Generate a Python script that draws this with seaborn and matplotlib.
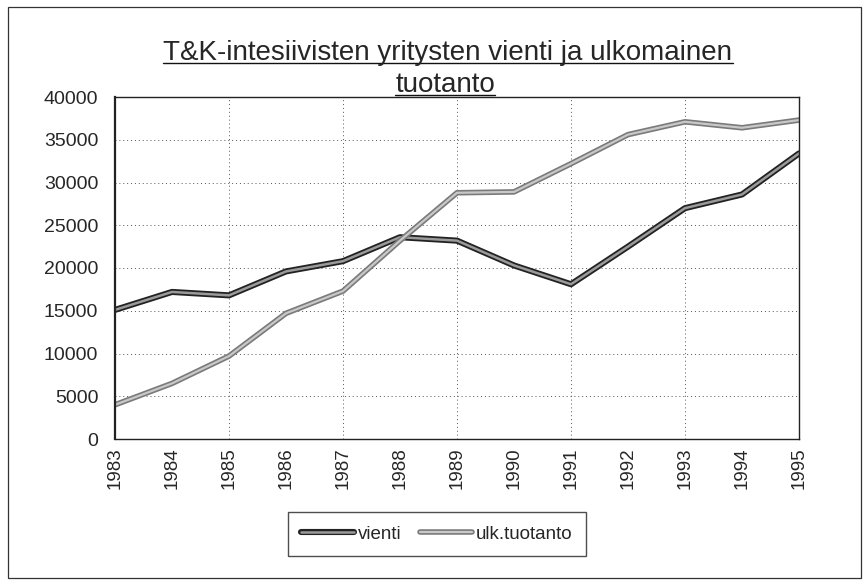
import matplotlib
matplotlib.use("Agg")
import matplotlib.pyplot as plt
import matplotlib.patheffects as pe
from matplotlib.lines import Line2D
from matplotlib.patches import Rectangle
import seaborn as sns
import pandas as pd

# --- data ---
years = [1983, 1984, 1985, 1986, 1987, 1988, 1989, 1990, 1991, 1992, 1993, 1994, 1995]
vienti = [15100, 17200, 16800, 19600, 20800, 23600, 23200, 20300, 18100, 22500, 27000, 28600, 33400]
ulk_tuotanto = [4000, 6500, 9700, 14700, 17300, 23200, 28800, 28900, 32200, 35600, 37100, 36400, 37300]
title_lines = ["T&K-intesiivisten yritysten vienti ja ulkomainen", "tuotanto"]
yticks = [0, 5000, 10000, 15000, 20000, 25000, 30000, 35000, 40000]

sns.set_style("white")
plt.rcParams['font.family'] = ['Liberation Sans', 'DejaVu Sans']

fig = plt.figure(figsize=(8.65, 5.8), dpi=100)
ax = fig.add_axes([115 / 865, 1 - 439 / 580, (799 - 115) / 865, (439 - 97) / 580])

df = pd.DataFrame({"year": years, "vienti": vienti, "ulk.tuotanto": ulk_tuotanto})

sns.lineplot(data=df, x="year", y="vienti", ax=ax, color="#3a3a3a", lw=4.4, label="vienti")
sns.lineplot(data=df, x="year", y="ulk.tuotanto", ax=ax, color="#8c8c8c", lw=4.0, label="ulk.tuotanto")

# double-stroke look of the scanned lines
ax.lines[0].set_path_effects([pe.Stroke(linewidth=4.4, foreground="#222222"),
                              pe.Stroke(linewidth=1.8, foreground="#9a9a9a")])
ax.lines[1].set_path_effects([pe.Stroke(linewidth=4.0, foreground="#7a7a7a"),
                              pe.Stroke(linewidth=1.6, foreground="#c8c8c8")])

ax.set_xlim(years[0], years[-1])
ax.set_ylim(0, 40000)
ax.set_xticks(years)
ax.set_xticklabels([str(y) for y in years], rotation=90, fontsize=13.5)
ax.set_yticks(yticks)
ax.set_yticklabels([str(v) for v in yticks], fontsize=14)
ax.tick_params(axis="both", length=0)
ax.tick_params(axis="x", pad=6)
ax.tick_params(axis="y", pad=12)
ax.set_xlabel("")
ax.set_ylabel("")

# dotted grid
for v in yticks[1:-1]:
    ax.axhline(v, color="#555555", lw=0.7, ls=(0, (1, 3)), zorder=0)
for y in years[2:-1:2]:
    ax.axvline(y, color="#555555", lw=0.7, ls=(0, (1, 3)), zorder=0)

for s in ax.spines.values():
    s.set_color("#222222")
    s.set_linewidth(1.0)
ax.spines["left"].set_linewidth(1.6)

ax.get_legend().remove()
leg = fig.legend(handles=ax.lines[:2], labels=["vienti", "ulk.tuotanto"], ncol=2,
                 loc="center", bbox_to_anchor=(437 / 865, 1 - 534 / 580),
                 frameon=True, fancybox=False, fontsize=13.5, handlelength=2.8,
                 handletextpad=0.2, columnspacing=1.0, borderpad=0.7)
leg.get_frame().set_edgecolor("#222222")
leg.get_frame().set_linewidth(1.0)

# underlined two-line title
t1 = fig.text(448 / 865, 1 - 60 / 580, title_lines[0], ha="center", va="baseline", fontsize=20)
t2 = fig.text(445 / 865, 1 - 92 / 580, title_lines[1], ha="center", va="baseline", fontsize=20)
fig.canvas.draw()
r = fig.canvas.get_renderer()
for t in (t1, t2):
    bb = t.get_window_extent(renderer=r).transformed(fig.transFigure.inverted())
    yb = t.get_position()[1] - 3 / 580
    fig.add_artist(Line2D([bb.x0, bb.x1], [yb, yb], transform=fig.transFigure,
                          color="#111111", lw=1.0))

# outer chart border
fig.add_artist(Rectangle((8 / 865, 2 / 580), 853 / 865, 571 / 580, transform=fig.transFigure,
                         fill=False, edgecolor="#333333", lw=0.9))

fig.savefig("out.png", dpi=100)
